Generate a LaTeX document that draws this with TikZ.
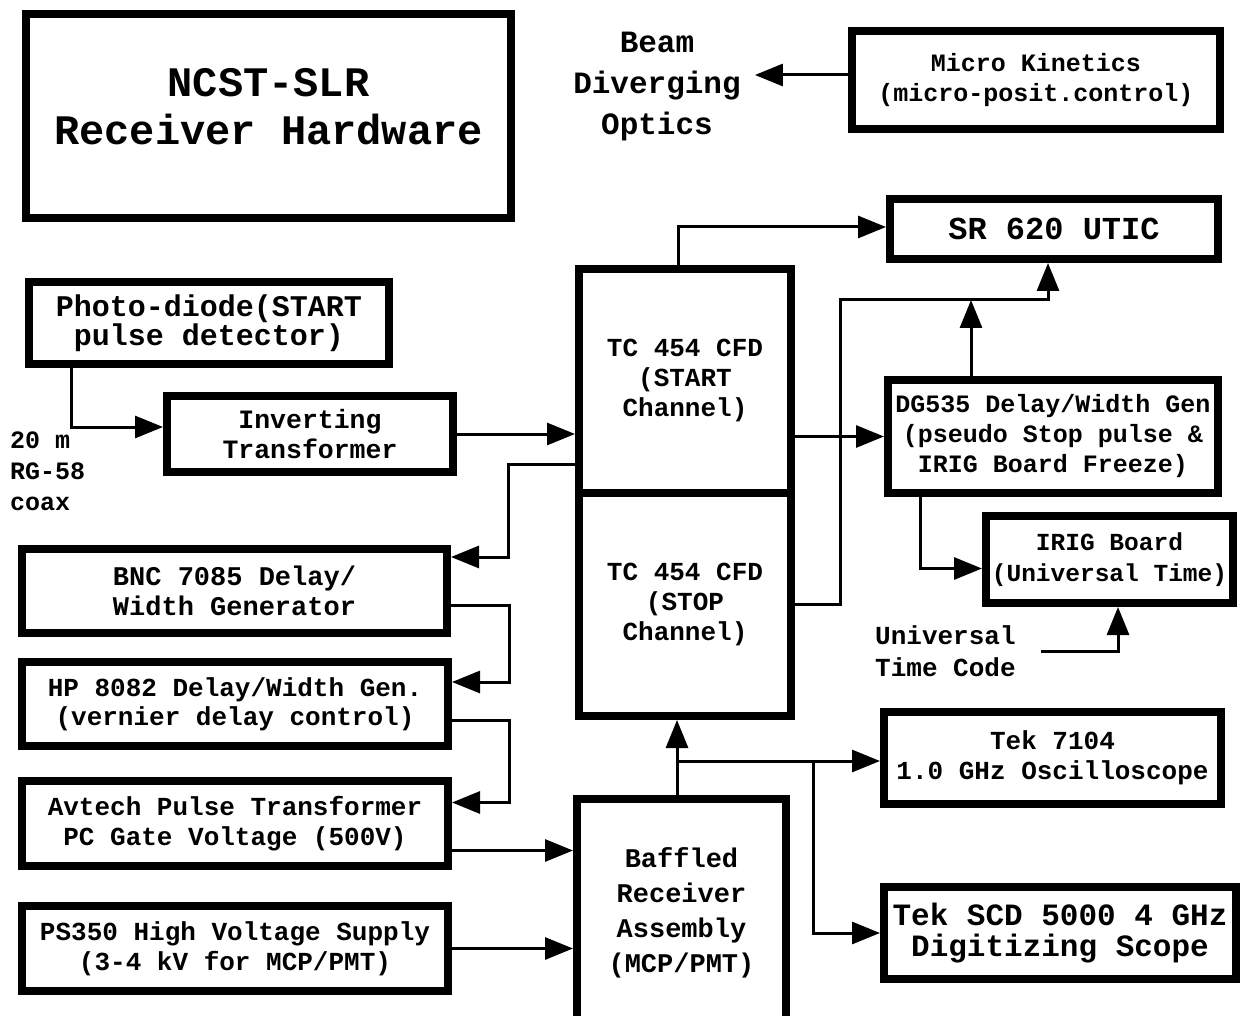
\documentclass[tikz,border=0pt]{standalone}
\usepackage{fontspec}
\setmonofont{Liberation Mono}
\usepackage{tikz}
\usetikzlibrary{calc, positioning, arrows.meta}
\newcommand{\setfs}[2]{\fontsize{#1}{#2}\selectfont}

\begin{document}
\begin{tikzpicture}[x=1pt, y=-1pt]
    % Definindo os estilos
    \tikzstyle{block} = [rectangle, draw, line width=8pt, inner sep=0pt, align=center, font=\ttfamily\bfseries\setfs{26}{30}]
    \tikzstyle{free_text} = [inner sep=0pt, align=center, font=\ttfamily\bfseries\setfs{26}{31}]
    \tikzstyle{sig_line} = [draw, line width=3pt, -{Triangle[length=28pt, width=22pt]}]

    % Area do desenho
    \useasboundingbox (0,0) rectangle (1243,1016);
    \clip (0,0) rectangle (1243,1016);

    % Titulo e optica
    \node [block, minimum width=485pt, minimum height=204pt, font=\ttfamily\bfseries\setfs{42}{48}] (title) at (268.5,116) {NCST-SLR\\Receiver Hardware\\[-28pt]\mbox{}};
    \node [free_text, inner xsep=14pt, font=\ttfamily\bfseries\setfs{31}{41}] (beam) at (657,87) {Beam\\Diverging\\Optics};
    \node [block, minimum width=368pt, minimum height=98pt, font=\ttfamily\bfseries\setfs{25}{30}] (micro) at (1036,80) {Micro Kinetics\\(micro-posit.control)};
    \node [block, minimum width=328pt, minimum height=60pt, font=\ttfamily\bfseries\setfs{32}{36}] (sr620) at (1054,229) {SR 620 UTIC};

    % Discriminadores
    \node [block, minimum width=212pt, minimum height=224pt] (start) at (685,381) {TC 454 CFD\\(START\\Channel)};
    \node [block, minimum width=212pt, minimum height=223pt] (stop) at (685,604.5) {TC 454 CFD\\(STOP\\Channel)};

    % Entrada do pulso START
    \node [block, minimum width=360pt, minimum height=82pt, font=\ttfamily\bfseries\setfs{30}{29}] (photo) at (209,323) {Photo-diode(START\\pulse detector)};
    \node [block, minimum width=286pt, minimum height=76pt, font=\ttfamily\bfseries\setfs{26.5}{30}] (invert) at (310,434) {Inverting\\Transformer};
    \node [free_text, align=left, anchor=west, font=\ttfamily\bfseries\setfs{25}{31}] (coax) at (10,471) {20 m\\RG-58\\coax};

    % Gerador DG535 e IRIG
    \node [block, minimum width=330pt, minimum height=113pt, font=\ttfamily\bfseries\setfs{25}{30}] (dg535) at (1053,436.5) {DG535 Delay/Width Gen\\(pseudo Stop pulse \&\\IRIG Board Freeze)};
    \node [block, minimum width=247pt, minimum height=87pt, font=\ttfamily\bfseries\setfs{24.5}{31}] (irig) at (1109.5,559.5) {IRIG Board\\(Universal Time)};
    \node [free_text, align=left, anchor=west, font=\ttfamily\bfseries\setfs{26}{32}] (utc) at (875,651) {Universal\\Time Code};

    % Geradores de atraso e fontes
    \node [block, minimum width=425pt, minimum height=84pt, font=\ttfamily\bfseries\setfs{27}{30}] (bnc) at (234.5,591) {BNC 7085 Delay/\\Width Generator};
    \node [block, minimum width=426pt, minimum height=84pt, font=\ttfamily\bfseries\setfs{26}{29}] (hp) at (235,704) {HP 8082 Delay/Width Gen.\\(vernier delay control)};
    \node [block, minimum width=426pt, minimum height=85pt] (avtech) at (235,823.5) {Avtech Pulse Transformer\\PC Gate Voltage (500V)};
    \node [block, minimum width=426pt, minimum height=85pt] (ps350) at (235,948.5) {PS350 High Voltage Supply\\(3-4 kV for MCP/PMT)};

    % Receptor e osciloscopios
    \node [block, minimum width=209pt, minimum height=227pt, font=\ttfamily\bfseries\setfs{27}{35}] (baffled) at (681.5,912.5) {Baffled\\Receiver\\Assembly\\(MCP/PMT)};
    \node [block, minimum width=337pt, minimum height=92pt] (tek7104) at (1052.5,758) {Tek 7104\\1.0 GHz Oscilloscope};
    \node [block, minimum width=352pt, minimum height=92pt, font=\ttfamily\bfseries\setfs{31}{31}] (tekscd) at (1060,933) {Tek SCD 5000 4 GHz\\Digitizing Scope};

    % Pontos auxiliares
    \coordinate (micro_out) at ([yshift=5pt]micro.west);
    \coordinate (stop_bus) at (840,300);
    \coordinate (dg_up) at ([xshift=-82pt]dg535.north);
    \coordinate (avtech_out) at ([yshift=-27pt]avtech.east);
    \coordinate (split_a) at (677,761);
    \coordinate (split_b) at (813,761);

    % Controle da optica
    \path [sig_line] (micro_out) -- (micro_out -| beam.east);

    % Linha do pulso START
    \path [sig_line] ([xshift=-138pt]photo.south) |- ([yshift=7pt]invert.west);
    \path [sig_line] (invert.east) -- (invert.east -| start.west);
    \path [sig_line] ([xshift=-7pt]start.north) |- ([yshift=2pt]sr620.west);
    \path [sig_line] (start.east |- dg535.west) -- (dg535.west);

    % Linha do pulso STOP
    \path [sig_line] (stop.east) -| (stop_bus) -| ([xshift=-6pt]sr620.south);
    \path [sig_line] (dg_up) -- (dg_up |- stop_bus);
    \path [sig_line] ([xshift=-133pt]dg535.south) |- ([yshift=-9pt]irig.west);
    \path [sig_line] ([xshift=25pt]utc.east) -| ([xshift=8.5pt]irig.south);

    % Cadeia de atrasos
    \path [sig_line] ([yshift=-83pt]start.west) -| ([xshift=57pt,yshift=34pt]bnc.east) -- ([yshift=34pt]bnc.east);
    \path [sig_line] ([yshift=-14pt]bnc.east) -| ([xshift=57pt,yshift=22pt]hp.east) -- ([yshift=22pt]hp.east);
    \path [sig_line] ([yshift=-16pt]hp.east) -| ([xshift=57pt,yshift=21pt]avtech.east) -- ([yshift=21pt]avtech.east);

    % Entradas do receptor
    \path [sig_line] (avtech_out) -- (avtech_out -| baffled.west);
    \path [sig_line] (ps350.east) -- (ps350.east -| baffled.west);

    % Saidas do receptor
    \path [sig_line] ([xshift=-4.5pt]baffled.north) -- ([xshift=-8pt]stop.south);
    \path [sig_line] (split_a) -- (split_a -| tek7104.west);
    \path [sig_line] (split_b) |- (tekscd.west);
\end{tikzpicture}
\end{document}
